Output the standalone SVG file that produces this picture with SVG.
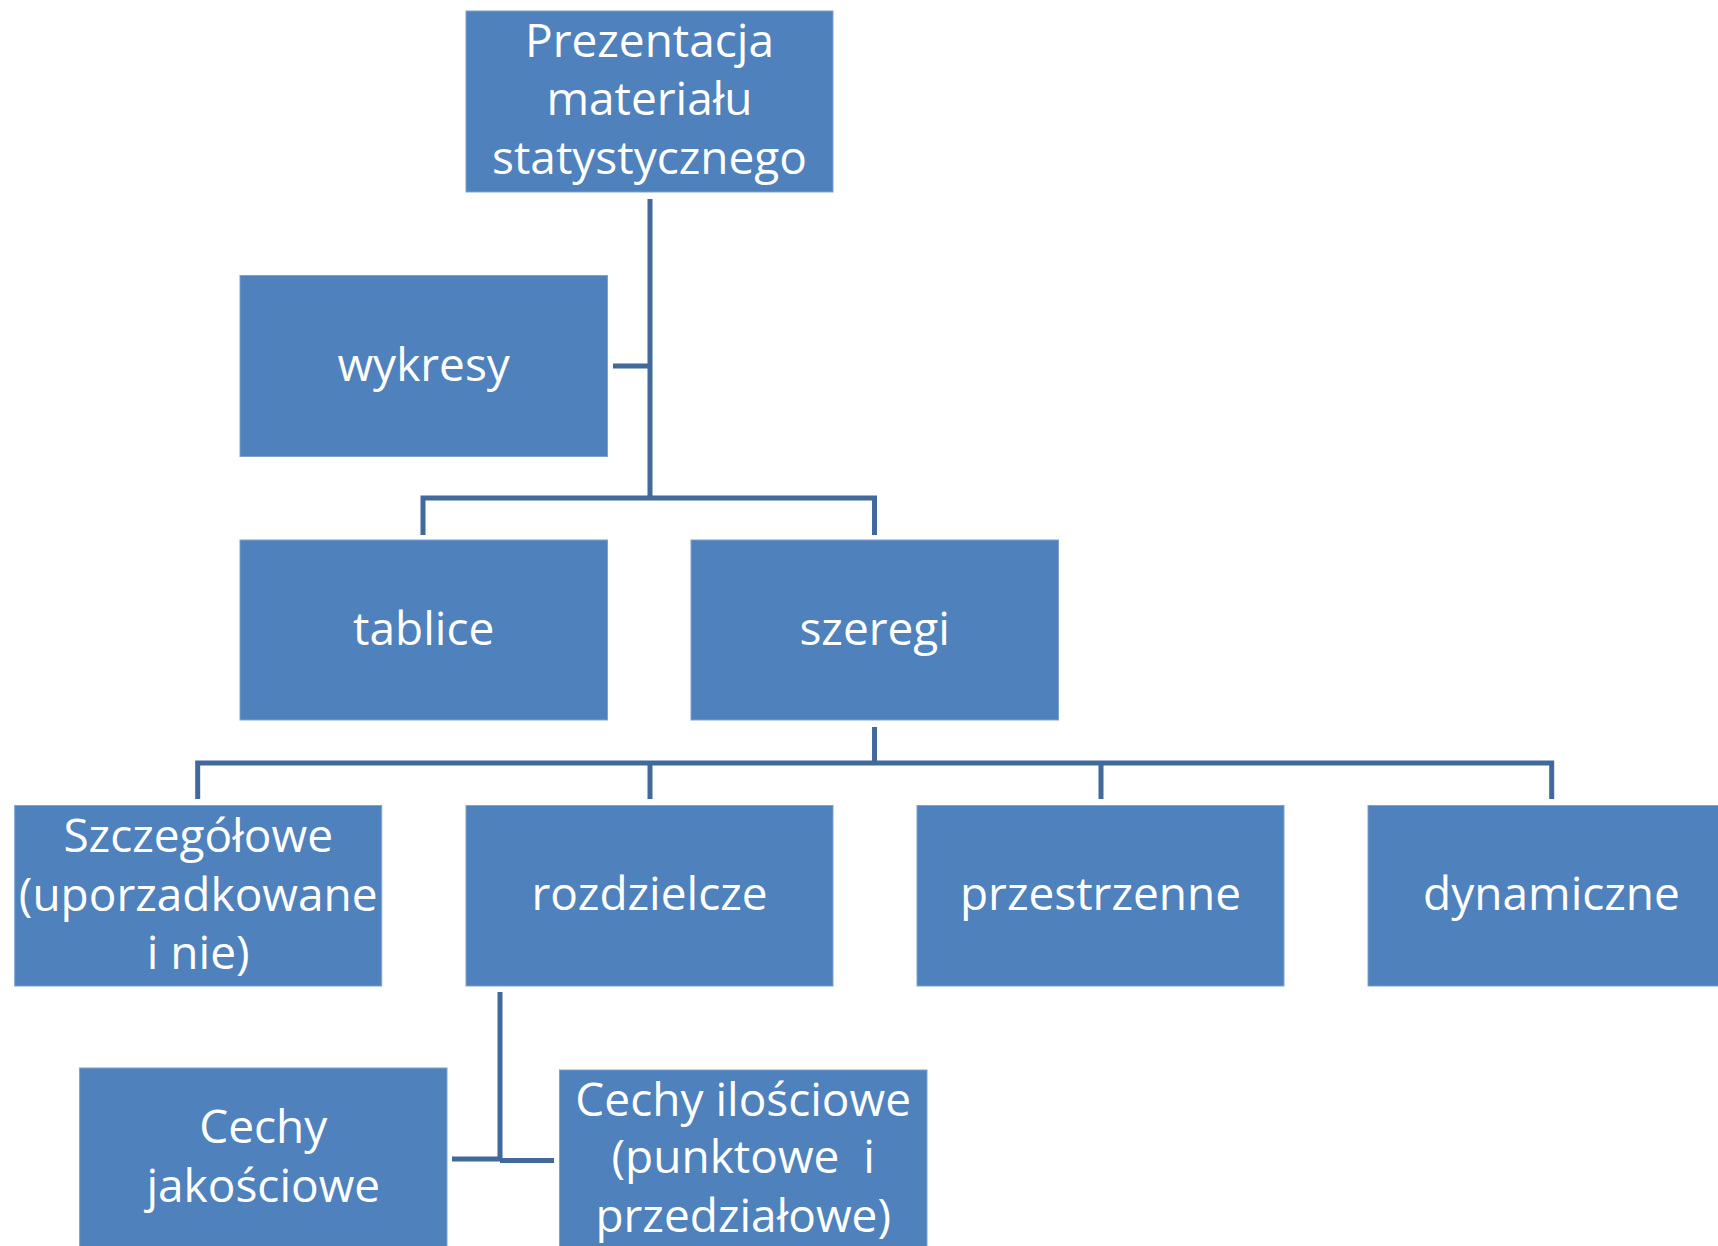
<svg xmlns="http://www.w3.org/2000/svg" width="1718" height="1246" viewBox="0 0 1718 1246">
  <style>
    .box { fill: #4F81BD; stroke: #7DA2CE; stroke-width: 1; }
    .lbl { fill: #FFFFFF; font-family: "Open Sans", "Noto Sans", sans-serif; font-size: 46px; text-anchor: middle; white-space: pre; }
    .link { fill: none; stroke: #41699C; stroke-width: 5; stroke-linejoin: miter; }
  </style>
  <rect width="1718" height="1246" fill="#FFFFFF"/>

  <!-- connectors -->
  <g id="connectors">
    <path class="link" d="M650,199 V498"/>
    <path class="link" d="M613,366 H650"/>
    <path class="link" d="M423,535 V498 H874.5 V535"/>
    <path class="link" d="M874.5,727 V763"/>
    <path class="link" d="M197.7,799 V763 H1551.7 V799"/>
    <path class="link" d="M650,763 V799"/>
    <path class="link" d="M1101,763 V799"/>
    <path class="link" d="M500,992 V1160"/>
    <path class="link" d="M452,1159 H500"/>
    <path class="link" d="M500,1160.5 H554"/>
  </g>

  <g id="node-prezentacja">
    <rect class="box" x="466" y="11" width="367" height="181"/>
    <text class="lbl" x="649.5" y="57">Prezentacja</text>
    <text class="lbl" x="649.5" y="115">materiału</text>
    <text class="lbl" x="649.5" y="174">statystycznego</text>
  </g>

  <g id="node-wykresy">
    <rect class="box" x="240" y="275.5" width="367.5" height="181"/>
    <text class="lbl" x="423.7" y="381">wykresy</text>
  </g>

  <g id="node-tablice">
    <rect class="box" x="240" y="540" width="367.5" height="180"/>
    <text class="lbl" x="423.7" y="645">tablice</text>
  </g>

  <g id="node-szeregi">
    <rect class="box" x="691" y="540" width="367.5" height="180"/>
    <text class="lbl" x="874.7" y="645">szeregi</text>
  </g>

  <g id="node-szczegolowe">
    <rect class="box" x="14.7" y="805.5" width="367" height="180.5"/>
    <text class="lbl" x="198.2" y="852">Szczegółowe</text>
    <text class="lbl" x="198.2" y="910.5">(uporzadkowane</text>
    <text class="lbl" x="198.2" y="968.5">i nie)</text>
  </g>

  <g id="node-rozdzielcze">
    <rect class="box" x="466" y="805.5" width="367" height="180.5"/>
    <text class="lbl" x="649.5" y="909.5">rozdzielcze</text>
  </g>

  <g id="node-przestrzenne">
    <rect class="box" x="917" y="805.5" width="367" height="180.5"/>
    <text class="lbl" x="1100.5" y="909.5">przestrzenne</text>
  </g>

  <g id="node-dynamiczne">
    <rect class="box" x="1368" y="805.5" width="367" height="180.5"/>
    <text class="lbl" x="1551.5" y="909.5">dynamiczne</text>
  </g>

  <g id="node-jakosciowe">
    <rect class="box" x="79.6" y="1068" width="367.4" height="182"/>
    <text class="lbl" x="263.3" y="1143">Cechy</text>
    <text class="lbl" x="263.3" y="1201.5">jakościowe</text>
  </g>

  <g id="node-ilosciowe">
    <rect class="box" x="559.5" y="1070" width="367.5" height="180"/>
    <text class="lbl" x="743.2" y="1115.5">Cechy ilościowe</text>
    <text class="lbl" x="743.2" y="1173">(punktowe  i</text>
    <text class="lbl" x="743.2" y="1231.5">przedziałowe)</text>
  </g>
</svg>
